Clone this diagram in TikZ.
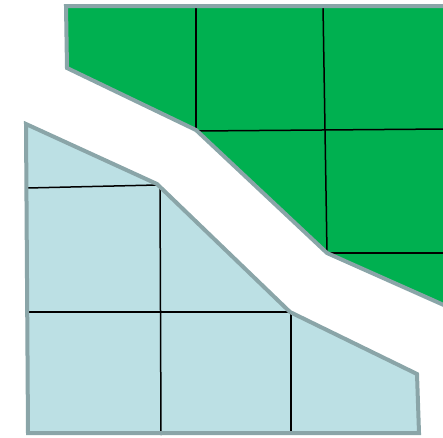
\documentclass[tikz,border=0pt]{standalone}
\definecolor{gfill}{HTML}{00B050}
\definecolor{bfill}{HTML}{BCE0E4}
\definecolor{edge}{HTML}{8AA5A8}
\tikzset{
  border/.style={draw=edge, line width=4pt, line join=miter},
  grid/.style={draw=black, line width=1.5pt}
}
\begin{document}
\begin{tikzpicture}[x=1pt,y=-1pt]
\useasboundingbox (0,0) rectangle (443,437);
% green region
\fill[gfill] (66,6) -- (446,6) -- (446,306) -- (327,253) -- (196,130) -- (67,68) -- cycle;
\draw[grid] (196,6) -- (196,130);
\draw[grid] (323,6) -- (327,253);
\draw[grid] (196,131) -- (446,129);
\draw[grid] (327,253) -- (446,253);
\draw[border] (446,6) -- (66,6) -- (67,68) -- (196,130) -- (327,253) -- (446,306);
% blue region
\fill[bfill] (26,124) -- (157,184) -- (290,312) -- (417,374) -- (419,433) -- (28,433) -- cycle;
\draw[grid] (27,188) -- (157,185);
\draw[grid] (160,187) -- (161,435);
\draw[grid] (27,312) -- (290,312);
\draw[grid] (291,312) -- (291,432);
\draw[border] (26,124) -- (157,184) -- (290,312) -- (417,374) -- (419,433) -- (28,433) -- cycle;
\end{tikzpicture}
\end{document}
